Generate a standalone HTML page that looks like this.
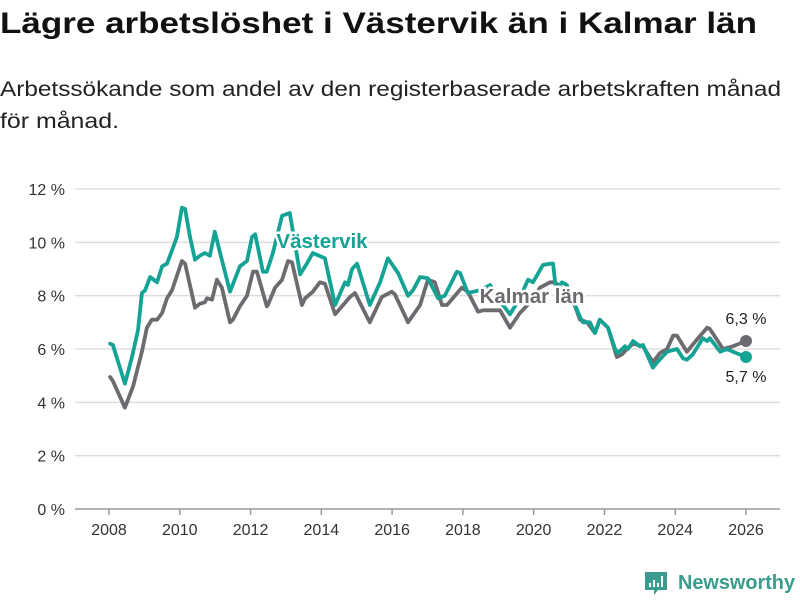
<!DOCTYPE html>
<html><head><meta charset="utf-8"><style>
html,body{margin:0;padding:0;background:#fff;}
svg{display:block;font-family:"Liberation Sans","DejaVu Sans",sans-serif;}
</style></head><body>
<svg id="chart" width="800" height="600" viewBox="0 0 800 600" xmlns="http://www.w3.org/2000/svg">
<text x="0" y="33" font-size="30" font-weight="bold" fill="#111" textLength="757" lengthAdjust="spacingAndGlyphs">Lägre arbetslöshet i Västervik än i Kalmar län</text>
<text x="0" y="96" font-size="21" fill="#222" textLength="781" lengthAdjust="spacingAndGlyphs">Arbetssökande som andel av den registerbaserade arbetskraften månad</text>
<text x="0" y="128" font-size="21" fill="#222" textLength="119" lengthAdjust="spacingAndGlyphs">för månad.</text>
<g id="grid"></g>
<g id="yaxis"></g>
<g id="xaxis"></g>
<g id="series"></g>
<g>
<path d="M645 572 h22 v18 h-9 l-4 5 v-5 h-9 z" fill="#3a9c8c"/>
<rect x="649" y="583" width="2" height="4" fill="#fff"/><rect x="653" y="580" width="2" height="7" fill="#fff"/><rect x="657" y="583" width="2" height="4" fill="#fff"/><rect x="661" y="576" width="2" height="11" fill="#fff"/>
<text x="678" y="589" font-size="20" font-weight="bold" fill="#3a9c8c" textLength="117" lengthAdjust="spacingAndGlyphs">Newsworthy</text>
</g>
</svg>
<script>
const yTicks = [0, 2, 4, 6, 8, 10, 12];
const xTicks = [2008, 2010, 2012, 2014, 2016, 2018, 2020, 2022, 2024, 2026];
const vastervikYears = [2008.03,2008.11,2008.45,2008.65,2008.82,2008.93,2009.02,2009.16,2009.36,2009.50,2009.64,2009.78,2009.92,2010.06,2010.15,2010.29,2010.43,2010.57,2010.71,2010.85,2010.99,2011.14,2011.42,2011.70,2011.90,2012.04,2012.13,2012.35,2012.46,2012.63,2012.89,2013.11,2013.40,2013.59,2013.76,2014.10,2014.39,2014.67,2014.75,2014.87,2015.01,2015.37,2015.66,2015.88,2016.17,2016.45,2016.59,2016.79,2017.01,2017.30,2017.49,2017.83,2017.92,2018.14,2018.48,2018.77,2019.05,2019.33,2019.61,2019.84,2019.98,2020.26,2020.46,2020.55,2020.63,2020.80,2020.94,2021.03,2021.17,2021.31,2021.39,2021.59,2021.73,2021.87,2022.10,2022.30,2022.38,2022.58,2022.66,2022.81,2023.00,2023.09,2023.37,2023.49,2023.77,2024.05,2024.22,2024.33,2024.50,2024.78,2024.90,2024.98,2025.27,2025.46,2025.63,2026.0];
const vastervikValues = [6.2,6.15,4.7,5.7,6.7,8.1,8.2,8.7,8.5,9.1,9.2,9.7,10.2,11.3,11.25,10.2,9.35,9.5,9.6,9.5,10.4,9.6,8.15,9.1,9.3,10.2,10.3,8.9,8.9,9.6,11.0,11.1,8.8,9.2,9.6,9.4,7.65,8.5,8.4,9.0,9.2,7.65,8.5,9.4,8.85,8.0,8.2,8.7,8.65,7.9,8.0,8.9,8.85,8.1,8.2,8.4,7.8,7.3,7.9,8.6,8.5,9.15,9.2,9.2,8.2,8.5,8.4,8.0,7.65,7.2,7.0,7.0,6.6,7.1,6.8,6.0,5.85,6.1,6.0,6.3,6.1,6.15,5.3,5.5,5.9,6.0,5.65,5.6,5.8,6.4,6.3,6.4,5.9,6.0,5.9,5.7];
const kalmarYears = [2008.03,2008.11,2008.45,2008.68,2008.93,2009.07,2009.21,2009.36,2009.50,2009.64,2009.78,2010.06,2010.15,2010.43,2010.57,2010.71,2010.77,2010.91,2011.05,2011.19,2011.42,2011.50,2011.70,2011.90,2012.07,2012.18,2012.46,2012.49,2012.69,2012.89,2013.06,2013.17,2013.45,2013.54,2013.76,2013.96,2014.10,2014.39,2014.81,2014.95,2015.37,2015.71,2015.99,2016.08,2016.45,2016.79,2017.01,2017.21,2017.41,2017.55,2017.97,2018.14,2018.43,2018.57,2019.05,2019.33,2019.61,2019.90,2020.18,2020.46,2020.60,2020.88,2021.17,2021.31,2021.51,2021.73,2021.87,2022.10,2022.35,2022.50,2022.64,2022.81,2023.09,2023.37,2023.57,2023.77,2023.94,2024.05,2024.33,2024.61,2024.90,2024.98,2025.35,2025.63,2026.0];
const kalmarValues = [4.95,4.8,3.8,4.6,5.9,6.8,7.1,7.1,7.35,7.9,8.2,9.3,9.2,7.55,7.7,7.75,7.9,7.85,8.6,8.3,7.0,7.1,7.6,8.0,8.9,8.9,7.6,7.65,8.3,8.6,9.3,9.25,7.65,7.9,8.15,8.5,8.45,7.3,7.95,8.1,7.0,7.95,8.15,8.05,7.0,7.65,8.6,8.5,7.65,7.65,8.3,8.15,7.4,7.45,7.45,6.8,7.35,7.75,8.3,8.5,8.5,8.2,7.6,7.1,7.0,6.6,7.1,6.8,5.7,5.8,6.0,6.2,6.1,5.5,5.85,6.0,6.5,6.5,5.9,6.35,6.8,6.75,6.0,6.1,6.3];
const endLabels = ["6,3 %", "5,7 %"];

const NS = "http://www.w3.org/2000/svg";
const xScale = y => 109 + (y - 2008) * (746 - 109) / 18;
const yScale = v => 509 - v * (320 / 12);
function mk(tag, attrs, parent){const e=document.createElementNS(NS,tag);for(const k in attrs)e.setAttribute(k,attrs[k]);parent.appendChild(e);return e;}
const grid=document.getElementById('grid'), ya=document.getElementById('yaxis'), xa=document.getElementById('xaxis'), ser=document.getElementById('series');
yTicks.forEach(t=>{
  const l=mk('line',{x1:75,x2:780,y1:yScale(t),y2:yScale(t),stroke:t===0?'#999':'#ddd','stroke-width':1.5},grid);
  
  
  const tx=mk('text',{x:65,y:yScale(t)+6,'font-size':16,fill:'#333','text-anchor':'end'},ya);
  tx.textContent=t+' %';
  
  
});
xTicks.forEach(t=>{
  const l=mk('line',{x1:xScale(t),x2:xScale(t),y1:509,y2:515,stroke:'#999','stroke-width':1.5},xa);
  
  
  const tx=mk('text',{x:xScale(t),y:535,'font-size':16,fill:'#333','text-anchor':'middle'},xa);
  tx.textContent=t;
  
  
});
function line(xs, vs, color, name){
  const d=xs.map((x,i)=>(i?'L':'M')+xScale(x).toFixed(1)+' '+yScale(vs[i]).toFixed(1)).join(' ');
  const p=mk('path',{d:d,fill:'none',stroke:color,'stroke-width':3.8,'stroke-linejoin':'round','stroke-linecap':'round'},ser);
  
  
}
line(kalmarYears,kalmarValues,'#6e6b70','kalmar-line');
line(vastervikYears,vastervikValues,'#14a394','vastervik-line');
function label(txt,x,y,color,name){
  const t=mk('text',{x:x,y:y,'font-size':20.5,'font-weight':'bold',fill:color,stroke:'#fff','stroke-width':5,'paint-order':'stroke','text-anchor':'middle'},ser);
  t.textContent=txt;
  
  
}
label('Västervik',322,248,'#14a394','vastervik-label');
label('Kalmar län',532,303,'#6e6b70','kalmar-label');
const kx=kalmarYears[kalmarYears.length-1], kv=kalmarValues[kalmarValues.length-1];
const vx=vastervikYears[vastervikYears.length-1], vv=vastervikValues[vastervikValues.length-1];
const d1=mk('circle',{cx:xScale(kx),cy:yScale(kv),r:6,fill:'#6e6b70'},ser);


const d2=mk('circle',{cx:xScale(vx),cy:yScale(vv),r:6,fill:'#14a394'},ser);


const e1=mk('text',{x:xScale(kx),y:yScale(kv)-17,'font-size':16,fill:'#222','text-anchor':'middle'},ser);
e1.textContent=endLabels[0];


const e2=mk('text',{x:xScale(vx),y:yScale(vv)+25,'font-size':16,fill:'#222','text-anchor':'middle'},ser);
e2.textContent=endLabels[1];


</script>
</body></html>
